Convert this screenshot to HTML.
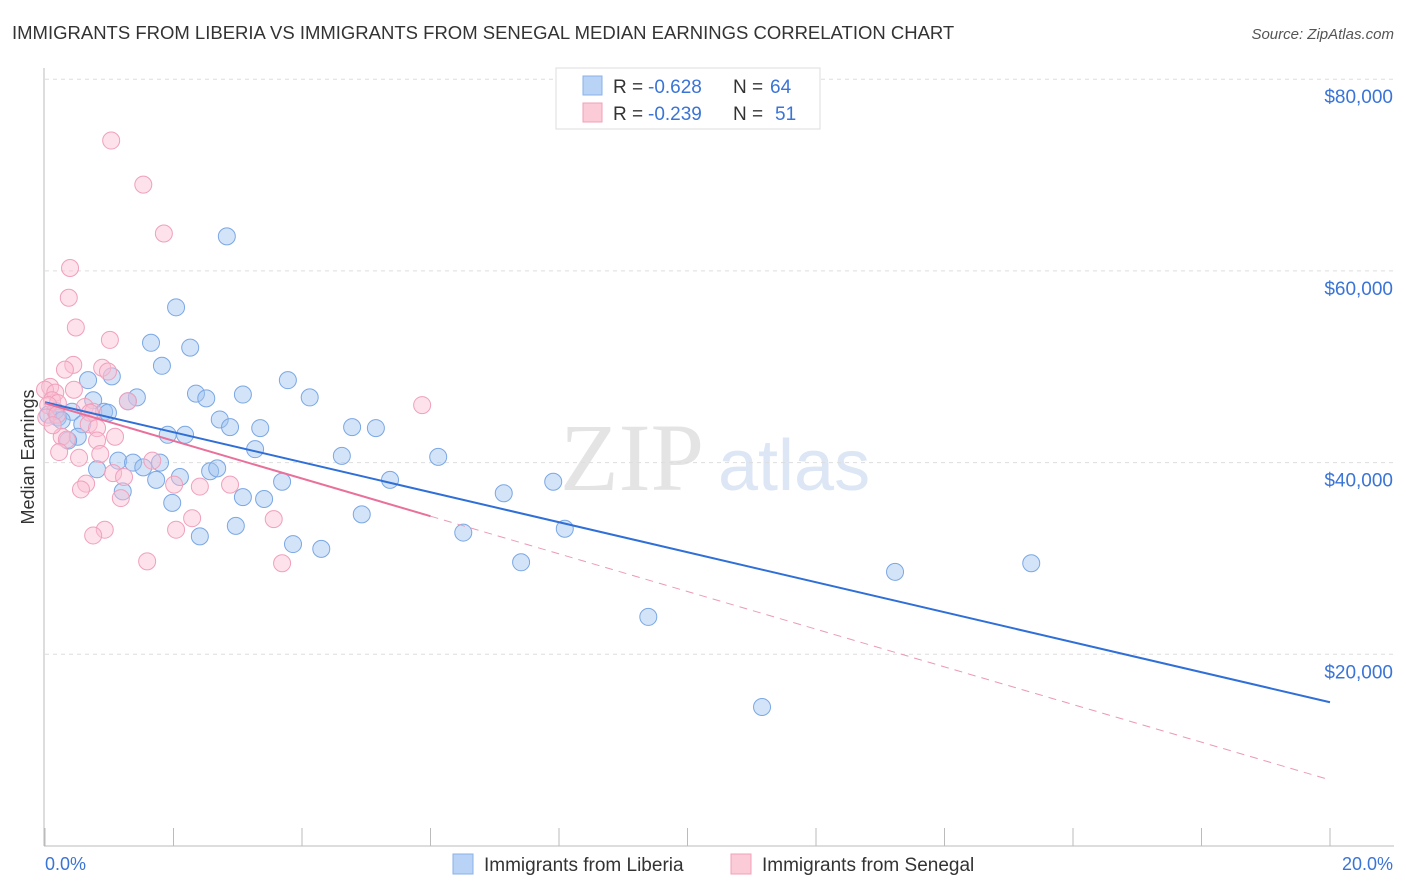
<!DOCTYPE html>
<html><head><meta charset="utf-8"><style>
body{margin:0;background:#fff;font-family:"Liberation Sans",sans-serif;}
#wrap{position:relative;width:1406px;height:892px;overflow:hidden;}
</style></head><body>
<div id="wrap">
<svg id="svg" width="1406" height="892" xmlns="http://www.w3.org/2000/svg">
<text x="12" y="39" font-size="18.5" fill="#333">IMMIGRANTS FROM LIBERIA VS IMMIGRANTS FROM SENEGAL MEDIAN EARNINGS CORRELATION CHART</text>
<text x="1394" y="39" font-size="15" fill="#555" font-style="italic" text-anchor="end">Source: ZipAtlas.com</text>
<text x="560" y="490" font-size="96" fill="#e4e4e4" font-family="Liberation Serif,serif">ZIP</text>
<text x="718" y="490" font-size="72" fill="#dce6f4">atlas</text>
<text transform="translate(34,457) rotate(-90)" font-size="18" fill="#333" text-anchor="middle">Median Earnings</text>
<g id="grid"></g><g id="pts"></g><g id="lines"></g>
<g>
<rect x="556" y="68" width="264" height="61" fill="#fff" stroke="#ddd"/>
<rect x="583" y="76" width="19" height="19" fill="#b8d3f5" stroke="#8ab2e8"/>
<rect x="583" y="103" width="19" height="19" fill="#fccbd8" stroke="#f0a0b8"/>
<text x="613" y="93" font-size="19" fill="#333">R =</text>
<text x="648" y="93" font-size="19" fill="#3a74d6">-0.628</text>
<text x="733" y="93" font-size="19" fill="#333">N =</text>
<text x="770" y="93" font-size="19" fill="#3a74d6">64</text>
<text x="613" y="120" font-size="19" fill="#333">R =</text>
<text x="648" y="120" font-size="19" fill="#3a74d6">-0.239</text>
<text x="733" y="120" font-size="19" fill="#333">N =</text>
<text x="775" y="120" font-size="19" fill="#3a74d6">51</text>
</g>
<g>
<rect x="453" y="854" width="20" height="20" fill="#b8d3f5" stroke="#8ab2e8"/>
<text x="484" y="871" font-size="19" fill="#333">Immigrants from Liberia</text>
<rect x="731" y="854" width="20" height="20" fill="#fccbd8" stroke="#f0a0b8"/>
<text x="762" y="871" font-size="19" fill="#333">Immigrants from Senegal</text>
</g>
<text x="45" y="870" font-size="18" fill="#3a74d6">0.0%</text>
<text x="1393" y="870" font-size="18" fill="#3a74d6" text-anchor="end">20.0%</text>
</svg></div>
<script>
const blueX=[2.83,2.04,1.65,2.26,1.82,0.67,1.04,1.43,2.35,2.51,3.08,3.78,4.12,1.29,0.16,0.42,0.75,0.92,0.98,0.05,0.20,0.26,0.58,2.72,2.88,3.35,4.78,5.15,1.91,2.18,0.51,0.36,3.27,4.62,6.12,0.81,1.14,1.37,1.79,1.53,2.10,2.57,2.68,1.73,3.69,5.37,7.91,7.14,1.21,3.08,3.41,1.98,4.93,2.97,2.41,8.09,6.51,3.86,4.30,7.41,13.23,15.35,9.39,11.16];
const blueY=[63.6,56.2,52.5,52.0,50.1,48.6,49.0,46.8,47.2,46.7,47.1,48.6,46.8,46.4,45.4,45.3,46.5,45.3,45.2,45.0,44.7,44.4,44.0,44.5,43.7,43.6,43.7,43.6,42.9,42.9,42.7,42.3,41.4,40.7,40.6,39.3,40.2,40.0,40.0,39.5,38.5,39.1,39.4,38.2,38.0,38.2,38.0,36.8,37.0,36.4,36.2,35.8,34.6,33.4,32.3,33.1,32.7,31.5,31.0,29.6,28.6,29.5,23.9,14.5];
const pinkX=[1.03,1.53,1.85,0.39,0.37,0.48,1.01,0.44,0.31,0.89,0.98,0.08,0.00,0.16,0.45,0.11,1.29,0.20,0.05,0.62,0.75,0.70,0.02,0.68,0.81,5.87,0.26,1.09,0.34,0.81,0.22,0.86,0.53,1.67,1.06,1.23,2.01,2.41,2.88,0.64,0.56,1.18,2.29,3.56,0.93,2.04,0.75,1.59,3.69,0.19,0.12];
const pinkY=[73.6,69.0,63.9,60.3,57.2,54.1,52.8,50.2,49.7,49.9,49.5,47.9,47.6,47.3,47.6,46.5,46.4,46.2,46.0,45.8,45.3,45.2,44.7,44.0,43.6,46.0,42.7,42.7,42.4,42.3,41.1,40.9,40.5,40.2,38.9,38.5,37.7,37.5,37.7,37.8,37.2,36.3,34.2,34.1,33.0,33.0,32.4,29.7,29.5,45.0,43.9];
const yTicks=[20,40,60,80];
const xTicks=[0,2,4,6,8,10,12,14,16,18,20];
const blueFit=[46.3,15.0];
const pinkFit=[46.2,6.9];
const pinkSolidEnd=6.0;
const NS="http://www.w3.org/2000/svg";
const sx=v=>45+v/20*1285, sy=v=>846-v/20*191.7;
function mk(tag,attrs,parent){const e=document.createElementNS(NS,tag);for(const k in attrs)e.setAttribute(k,attrs[k]);document.getElementById(parent).appendChild(e);return e;}
mk('line',{x1:44,y1:68,x2:44,y2:846,stroke:'#bbb'},'grid');
mk('line',{x1:44,y1:846,x2:1394,y2:846,stroke:'#bbb'},'grid');
yTicks.forEach(t=>{
 const l=mk('line',{x1:45,x2:1394,y1:sy(t),y2:sy(t),stroke:'#ddd','stroke-dasharray':'4,4'},'grid');
 
 
 const tx=mk('text',{x:1393,y:sy(t)+24,'font-size':19,fill:'#3a74d6','text-anchor':'end'},'grid');
 tx.textContent='$'+(t*1000).toLocaleString('en-US');
 
 
});
xTicks.forEach(t=>{
 const l=mk('line',{x1:sx(t),x2:sx(t),y1:828,y2:846,stroke:'#bbb'},'grid');
 
 
});
blueX.forEach((x,i)=>{
 const c=mk('circle',{cx:sx(x),cy:sy(blueY[i]),r:8.5,fill:'rgba(160,195,240,0.45)',stroke:'#7aa7e4','stroke-width':1},'pts');
 
 
});
pinkX.forEach((x,i)=>{
 const c=mk('circle',{cx:sx(x),cy:sy(pinkY[i]),r:8.5,fill:'rgba(250,190,210,0.45)',stroke:'#f0a0bc','stroke-width':1},'pts');
 
 
});
const bl=mk('line',{x1:sx(0),y1:sy(blueFit[0]),x2:sx(20),y2:sy(blueFit[1]),stroke:'#2f6fd6','stroke-width':2},'lines');


const pAt=x=>pinkFit[0]+(pinkFit[1]-pinkFit[0])*x/20;
const pl=mk('line',{x1:sx(0),y1:sy(pinkFit[0]),x2:sx(pinkSolidEnd),y2:sy(pAt(pinkSolidEnd)),stroke:'#e8709a','stroke-width':2},'lines');


const pd=mk('line',{x1:sx(pinkSolidEnd),y1:sy(pAt(pinkSolidEnd)),x2:sx(20),y2:sy(pinkFit[1]),stroke:'#eb9ab5','stroke-width':1,'stroke-dasharray':'8,6'},'lines');


</script>
</body></html>
